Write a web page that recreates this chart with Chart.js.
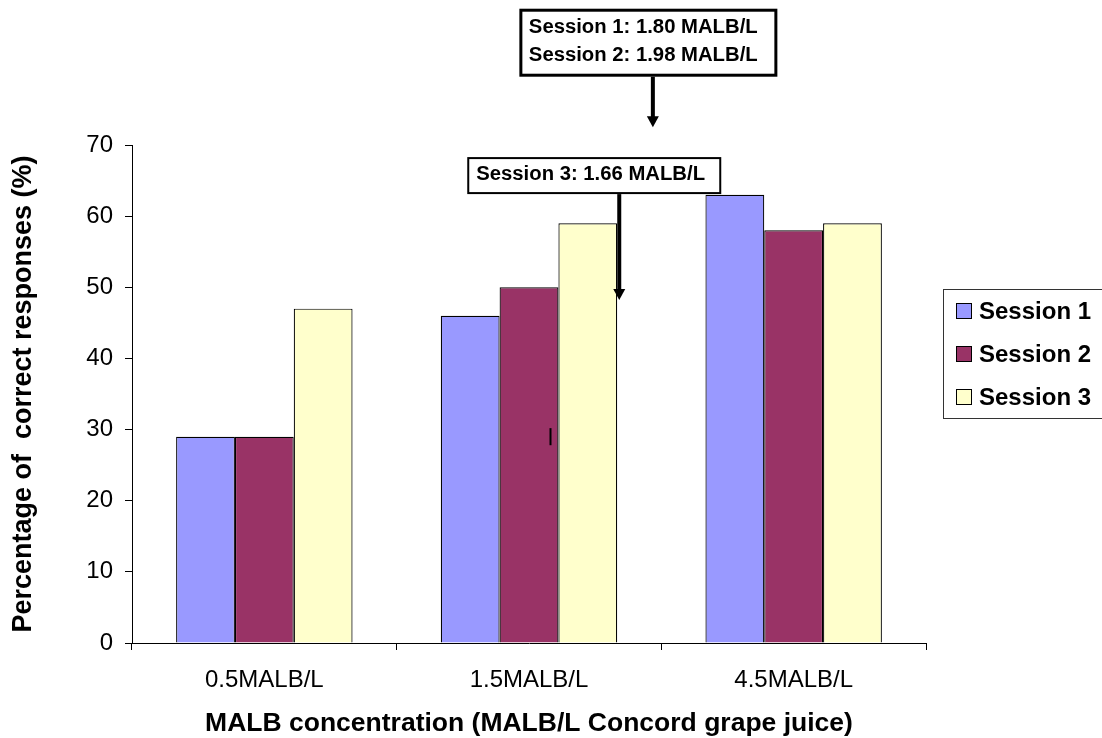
<!DOCTYPE html>
<html><head><meta charset="utf-8">
<script src="https://cdn.jsdelivr.net/npm/chart.js@4"></script>
<style>html,body{margin:0;padding:0;background:#fff;overflow:hidden}canvas{display:block}</style>
</head><body><canvas id="c" width="1102" height="738"></canvas>
<script>
const categories = ['0.5MALB/L', '1.5MALB/L', '4.5MALB/L'];
const seriesNames = ['Session 1', 'Session 2', 'Session 3'];
const session1 = [29, 46, 63];
const session2 = [29, 50, 58];
const session3 = [47, 59, 59];
const yTicks = [0, 10, 20, 30, 40, 50, 60, 70];
const xTitle = 'MALB concentration (MALB/L Concord grape juice)';
const yTitle = 'Percentage of  correct responses (%)';
const calloutTextA = ['Session 1: 1.80 MALB/L', 'Session 2: 1.98 MALB/L'];
const calloutTextB = ['Session 3: 1.66 MALB/L'];

const FONT = '"Liberation Sans", Arial, Helvetica, sans-serif';
Chart.defaults.font.family = FONT;
Chart.defaults.color = '#000';

const overlay = {
  id: 'overlay',
  afterDraw(chart, args, opts) {
    const { ctx, scales: { x, y } } = chart;
    ctx.save();
    // callouts
    opts.callouts.forEach(c => {
      const ax = x.getPixelForValue(c.at[0]);
      const ay = y.getPixelForValue(c.at[1]);
      const bBottom = ay - c.stem;
      const bTop = bBottom - c.h;
      const bLeft = ax + c.dx;
      ctx.fillStyle = '#fff';
      ctx.fillRect(bLeft, bTop, c.w, c.h);
      ctx.lineWidth = c.border;
      ctx.strokeStyle = '#000';
      ctx.strokeRect(bLeft, bTop, c.w, c.h);
      ctx.fillStyle = '#000';
      ctx.font = 'bold 20.3px ' + FONT;
      ctx.textAlign = 'left';
      ctx.textBaseline = 'middle';
      c.lines.forEach((t, i) => ctx.fillText(t, bLeft + 8, bTop + c.first + i * 28));
      // arrow
      ctx.lineWidth = 4;
      ctx.beginPath();
      ctx.moveTo(ax, bBottom + c.border / 2);
      ctx.lineTo(ax, ay - 9);
      ctx.stroke();
      ctx.beginPath();
      ctx.moveTo(ax - 6, ay - 11);
      ctx.lineTo(ax + 6, ay - 11);
      ctx.lineTo(ax, ay);
      ctx.closePath();
      ctx.fill();
    });
    // stray cursor mark
    const mx = Math.round(x.getPixelForValue(opts.mark[0])) + 0.5;
    ctx.lineWidth = 2;
    ctx.strokeStyle = '#000';
    ctx.beginPath();
    ctx.moveTo(mx, y.getPixelForValue(opts.mark[1]));
    ctx.lineTo(mx, y.getPixelForValue(opts.mark[2]));
    ctx.stroke();
    // legend
    const L = opts.legend;
    ctx.lineWidth = 1;
    ctx.strokeStyle = '#333';
    ctx.strokeRect(L.x + 0.5, L.y + 0.5, L.w, L.h);
    ctx.font = 'bold 24px ' + FONT;
    ctx.textBaseline = 'middle';
    chart.data.datasets.forEach((ds, i) => {
      const cy = L.y + L.first + i * L.gap;
      ctx.fillStyle = ds.backgroundColor;
      ctx.fillRect(L.x + 13, cy - 8, 16, 16);
      ctx.strokeStyle = '#000';
      ctx.strokeRect(L.x + 13.5, cy - 7.5, 15, 15);
      ctx.fillStyle = '#000';
      ctx.fillText(ds.label, L.x + 36, cy + 1);
    });
    ctx.restore();
  }
};

const colors = ['#9999FF', '#993366', '#FFFFCC'];
const values = [session1, session2, session3];

new Chart(document.getElementById('c'), {
  type: 'bar',
  data: {
    labels: categories,
    datasets: seriesNames.map((n, i) => ({
      label: n,
      data: values[i],
      backgroundColor: colors[i],
      borderColor: '#000',
      borderWidth: 1.2,
      categoryPercentage: 2 / 3,
      barPercentage: 1.0
    }))
  },
  options: {
    responsive: false,
    animation: false,
    devicePixelRatio: 1,
    layout: { padding: { left: 0, top: 145, right: 176, bottom: 0 } },
    plugins: {
      legend: { display: false },
      tooltip: { enabled: false },
      overlay: {
        callouts: [
          { lines: calloutTextA, at: [1.468, 72.5], stem: 52, h: 65, w: 255, dx: -132, border: 3, first: 17 },
          { lines: calloutTextB, at: [1.341, 48.2], stem: 107, h: 35, w: 252, dx: -151, border: 2, first: 16 }
        ],
        mark: [1.08, 30.2, 27.8],
        legend: { x: 943, y: 289, w: 200, h: 129, first: 22, gap: 43 }
      }
    },
    scales: {
      x: {
        grid: { offset: true, drawOnChartArea: false, drawTicks: true, tickLength: 7, color: '#000' },
        border: { display: true, color: '#000', width: 1 },
        ticks: { font: { size: 24 }, color: '#000', padding: 16, maxRotation: 0, autoSkip: false },
        title: { display: true, text: xTitle, color: '#000', font: { size: 26.5, weight: 'bold', lineHeight: 1.1 }, padding: { top: 0, bottom: 0 } },
        afterFit(s) { s.height = 95; }
      },
      y: {
        min: 0, max: 70,
        afterBuildTicks(s) { s.ticks = yTicks.map(v => ({ value: v })); },
        ticks: { font: { size: 24 }, color: '#000', padding: 12 },
        grid: { drawOnChartArea: false, drawTicks: true, tickLength: 7, color: '#000' },
        border: { display: true, color: '#000', width: 1 },
        title: { display: true, text: yTitle, color: '#000', font: { size: 27, weight: 'bold', lineHeight: 1.1 }, padding: { top: 9, bottom: 0 } },
        afterFit(s) { s.width = 132; }
      }
    }
  },
  plugins: [overlay]
});
</script>
</body></html>
